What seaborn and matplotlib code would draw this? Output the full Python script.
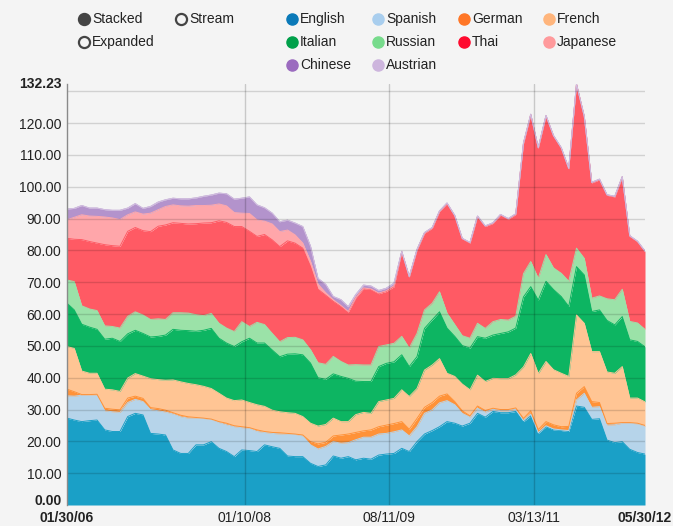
import numpy as np
import pandas as pd
import matplotlib
matplotlib.use("Agg")
import matplotlib.pyplot as plt
import matplotlib.transforms as mtransforms
import seaborn as sns

# ---------------- data ----------------
languages = ["English", "Spanish", "German", "French", "Italian",
             "Russian", "Thai", "Japanese", "Chinese", "Austrian"]

start_date = pd.Timestamp("2006-01-30")
n_points = 77  # monthly samples 01/30/06 .. 05/30/12

english = [27.3, 26.7, 26.2, 26.5, 26.7, 23.6, 23.1, 23.1, 27.8, 28.8, 28.3, 22.5, 22.3, 22.0, 17.3, 16.2, 16.2, 18.9, 18.9, 19.9,
           17.8, 16.8, 15.2, 17.3, 17.1, 16.8, 18.9, 18.3, 17.8, 15.4, 15.2, 15.2, 13.1, 12.1, 12.6, 15.4, 14.7, 15.2, 14.2, 14.7,
           14.4, 15.7, 16.0, 16.2, 17.8, 16.8, 19.9, 22.3, 23.4, 24.6, 26.2, 25.7, 24.8, 25.7, 28.8, 27.6, 29.4, 29.0, 29.0, 29.4,
           26.2, 28.0, 22.5, 24.6, 23.6, 23.4, 23.1, 31.1, 30.7, 26.9, 27.1, 20.4, 19.6, 19.9, 17.5, 16.5, 16.0]
spanish = [7.0, 7.5, 8.3, 8.1, 7.9, 6.0, 6.2, 6.0, 4.4, 4.4, 4.2, 7.5, 7.3, 7.2, 11.3, 11.5, 11.1, 8.4, 8.3, 7.0,
           8.1, 8.4, 9.4, 7.0, 7.0, 6.3, 3.9, 4.2, 4.5, 6.8, 7.0, 6.5, 5.8, 5.5, 5.8, 4.5, 4.7, 4.4, 6.3, 6.6,
           6.9, 6.6, 6.5, 6.8, 5.8, 4.9, 4.7, 6.5, 6.5, 7.5, 6.6, 5.8, 4.0, 1.9, 1.6, 1.6, 0.7, 0.6, 0.6, 0.7,
           0.3, 0.6, 0.2, 0.3, 0.3, 0.2, 0.3, 1.9, 4.4, 3.8, 3.8, 4.7, 5.6, 5.8, 8.2, 9.0, 8.8]
german = [2.1, 1.4, 0.2, 0.1, 0.2, 0.8, 0.8, 0.8, 1.4, 1.0, 1.0, 0.6, 0.7, 0.6, 0.4, 0.5, 0.4, 0.2, 0.1, 0.1,
          0.3, 0.5, 0.3, 0.3, 0.2, 0.5, 0.3, 0.3, 0.4, 0.3, 0.1, 0.3, 1.0, 1.6, 1.3, 1.8, 2.6, 2.7, 2.3, 2.0,
          2.3, 2.3, 2.6, 2.6, 2.6, 2.1, 2.6, 1.9, 2.3, 2.1, 2.1, 1.0, 0.8, 0.4, 0.7, 0.5, 0.3, 0.4, 0.4, 0.4,
          0.7, 1.0, 1.0, 1.3, 1.3, 1.0, 1.3, 2.1, 2.1, 1.8, 1.3, 0.5, 0.5, 0.2, 0.2, 0.2, 0.2]
french = [13.4, 13.6, 7.4, 6.7, 6.6, 6.0, 6.1, 5.8, 6.3, 7.1, 7.0, 9.1, 9.1, 9.4, 10.3, 10.5, 10.5, 10.3, 10.0, 9.6,
          8.9, 7.9, 7.9, 8.4, 7.9, 7.9, 7.9, 7.0, 6.6, 6.5, 6.5, 5.8, 5.8, 5.6, 5.6, 5.6, 4.2, 3.9, 5.6, 5.8,
          5.2, 7.9, 7.9, 7.9, 10.0, 10.3, 9.4, 11.7, 11.8, 11.8, 6.5, 7.9, 8.4, 8.2, 9.7, 9.1, 9.4, 9.7, 9.7, 10.4,
          16.2, 18.0, 17.6, 18.9, 17.3, 16.8, 15.7, 24.6, 19.9, 15.7, 16.0, 16.2, 15.7, 17.6, 7.7, 7.9, 7.4]
italian = [13.6, 12.1, 14.7, 14.5, 13.8, 15.7, 16.2, 15.7, 13.9, 13.6, 13.4, 13.1, 13.6, 14.2, 15.9, 16.2, 16.6, 16.8, 17.6, 18.9,
           17.3, 17.3, 17.0, 18.3, 20.2, 19.4, 19.9, 18.9, 17.3, 18.4, 18.7, 19.4, 18.9, 15.2, 14.2, 13.9, 14.2, 13.6, 10.5, 9.7,
           10.0, 11.0, 11.5, 11.5, 11.0, 9.4, 10.0, 13.1, 14.2, 14.7, 14.2, 12.6, 12.1, 13.1, 12.1, 13.6, 13.6, 14.2, 14.7, 14.7,
           22.0, 21.0, 23.1, 25.2, 25.2, 24.1, 22.0, 15.2, 15.2, 12.6, 13.1, 16.2, 15.2, 15.7, 18.3, 17.8, 17.3]
russian = [7.3, 8.9, 5.8, 5.7, 5.9, 4.2, 3.7, 4.2, 5.5, 5.8, 5.8, 5.5, 5.5, 4.9, 5.2, 5.5, 5.5, 5.2, 4.6, 4.7,
           4.7, 4.7, 4.7, 6.3, 3.7, 6.5, 5.8, 5.2, 4.7, 5.2, 5.2, 4.7, 4.2, 4.7, 4.7, 5.5, 4.7, 4.2, 5.2, 5.2,
           5.2, 6.3, 5.8, 5.8, 5.8, 5.8, 7.3, 5.8, 5.2, 6.3, 4.7, 3.7, 3.1, 3.1, 4.2, 3.1, 4.2, 4.4, 3.7, 3.7,
           7.3, 7.9, 6.8, 8.4, 6.8, 7.3, 7.9, 5.8, 5.2, 4.2, 4.4, 6.8, 7.9, 8.6, 5.8, 5.8, 5.5]
thai = [13.1, 13.3, 20.8, 21.2, 21.2, 25.5, 25.4, 25.7, 26.7, 26.5, 26.5, 27.6, 29.1, 29.7, 28.3, 28.1, 28.0, 28.6, 29.1, 28.5,
        32.2, 33.2, 33.0, 29.9, 29.9, 27.0, 28.3, 29.4, 29.9, 30.4, 29.6, 28.8, 26.2, 23.1, 21.7, 17.3, 17.3, 16.6, 21.0, 24.0,
        23.7, 16.6, 16.8, 17.8, 26.5, 22.3, 26.2, 24.1, 23.6, 25.2, 34.4, 34.1, 30.4, 29.9, 33.5, 32.0, 30.9, 32.8, 31.7, 32.0,
        40.9, 46.1, 40.9, 43.5, 41.4, 39.3, 35.3, 51.53, 44.5, 36.2, 36.5, 32.5, 32.3, 35.2, 26.7, 25.5, 24.4]
japanese = [5.8, 6.9, 7.8, 8.0, 8.4, 8.7, 8.7, 8.4, 5.2, 4.9, 5.2, 5.8, 5.2, 5.8, 5.6, 5.5, 5.6, 5.7, 5.5, 5.5,
            5.3, 5.2, 4.4, 4.2, 5.6, 5.2, 4.2, 5.0, 4.7, 3.4, 2.6, 1.6, 1.6, 1.6, 0.8, 0.5, 0.3, 0.2, 0.0, 0.2,
            0.2, 0.2, 0.2, 0.3, 0.1, 0.1, 0.1, 0.1, 0.1, 0.1, 0.1, 0.1, 0.1, 0.1, 0.1, 0.1, 0.1, 0.1, 0.1, 0.1,
            0.1, 0.1, 0.1, 0.1, 0.1, 0.1, 0.1, 0.0, 0.1, 0.1, 0.1, 0.1, 0.1, 0.1, 0.1, 0.1, 0.1]
chinese = [3.4, 2.8, 2.9, 2.5, 2.6, 2.3, 2.4, 2.9, 2.1, 2.6, 1.8, 2.1, 2.4, 2.1, 2.1, 2.2, 2.3, 2.4, 2.9, 3.2,
           3.4, 3.8, 4.2, 4.7, 5.2, 4.7, 4.2, 3.4, 3.1, 3.1, 3.7, 5.2, 4.7, 1.8, 2.6, 1.0, 1.8, 1.5, 1.0, 0.9,
           0.9, 0.8, 0.8, 0.8, 0.1, 0.1, 0.1, 0.1, 0.1, 0.1, 0.1, 0.1, 0.1, 0.1, 0.1, 0.1, 0.1, 0.1, 0.1, 0.1,
           0.1, 0.1, 0.1, 0.1, 0.1, 0.1, 0.1, 0.0, 0.1, 0.1, 0.1, 0.1, 0.1, 0.1, 0.1, 0.1, 0.1]
austrian = [0.0] * n_points

series = [english, spanish, german, french, italian, russian, thai, japanese, chinese, austrian]

x_tick_dates = ["2006-01-30", "2008-01-10", "2009-08-11", "2011-03-13", "2012-05-30"]

area_colors = ["#1aa0c7", "#b6d4ea", "#ff9238", "#ffc594", "#0db562",
               "#9be2a8", "#ff5a64", "#ffa6aa", "#b393cc", "#d2bfe0"]
legend_colors = ["#0a79b8", "#a9ceee", "#ff7626", "#ffb57c", "#00a04a",
                 "#77db8c", "#ff0a2e", "#ff9a9c", "#9b6bbf", "#cdb5dd"]

# ---------------- build frame ----------------
dates = pd.to_datetime([start_date + pd.DateOffset(months=i) for i in range(n_points)])
wide = pd.DataFrame(dict(zip(languages, series)), index=dates)
cum = wide.cumsum(axis=1)
long = cum.reset_index().melt(id_vars="index", var_name="language", value_name="cum")
long = long.rename(columns={"index": "date"})
max_total = float(wide.sum(axis=1).max())

# ---------------- figure ----------------
sns.set_theme(style="white")
plt.rcParams["font.family"] = ["Liberation Sans", "DejaVu Sans"]

BG = "#f4f4f4"
W, H = 673, 526
fig = plt.figure(figsize=(W / 100, H / 100), dpi=100, facecolor=BG)
left, right, top, bottom = 67, 645, 84.2, 505
ax = fig.add_axes([left / W, (H - bottom) / H, (right - left) / W, (bottom - top) / H])
ax.set_facecolor(BG)

prev = np.zeros(n_points)
for lang, col in zip(languages, area_colors):
    cur = cum[lang].to_numpy()
    ax.fill_between(dates, prev, cur, color=col, linewidth=0, zorder=2)
    prev = cur

sns.lineplot(data=long, x="date", y="cum", hue="language", hue_order=languages,
             palette=dict(zip(languages, area_colors)), linewidth=0.7,
             legend=False, ax=ax, zorder=2.5)

# grid on top, semi-transparent like the original
for v in range(10, 140, 10):
    if v < max_total:
        ax.axhline(v, color=(0, 0, 0, 0.14), lw=1.0, zorder=3)
for d in x_tick_dates[1:-1]:
    ax.axvline(pd.Timestamp(d), color=(0, 0, 0, 0.18), lw=1.0, zorder=3)

ax.set_xlim(dates[0], dates[-1])
ax.set_ylim(0, max_total)

yt = list(range(0, 130, 10)) + [max_total]
ax.set_yticks(yt)
ax.set_yticklabels([f"{v:.2f}" for v in yt])

xt = pd.to_datetime(x_tick_dates)
ax.set_xticks(xt)
ax.set_xticklabels([d.strftime("%m/%d/%y") for d in xt])

ax.tick_params(axis="both", length=0, labelsize=10, colors="#222222")
ax.tick_params(axis="y", pad=4)
ax.tick_params(axis="x", pad=4)
ax.set_xlabel("")
ax.set_ylabel("")

ylabs = ax.get_yticklabels()
for i, lab in enumerate(ylabs):
    if i == 0 or i == len(yt) - 1:
        lab.set_fontweight("bold")
# lift the 0.00 label a little so it clears the first date label
ylabs[0].set_transform(ylabs[0].get_transform() +
                       mtransforms.ScaledTranslation(0, 4 / 72, fig.dpi_scale_trans))
ylabs[-1].set_transform(ylabs[-1].get_transform() +
                        mtransforms.ScaledTranslation(0, 1 / 72, fig.dpi_scale_trans))
for i, lab in enumerate(ax.get_xticklabels()):
    if i == 0 or i == len(xt) - 1:
        lab.set_fontweight("bold")

for s in ["top", "right", "bottom"]:
    ax.spines[s].set_visible(False)
ax.spines["left"].set_color("#8a8a8a")
ax.spines["left"].set_linewidth(1.0)
ax.spines["left"].set_zorder(4)

# ---------------- legend (pixel overlay) ----------------
lax = fig.add_axes([0, 0, 1, 1], facecolor="none")
lax.set_xlim(0, W)
lax.set_ylim(H, 0)
lax.axis("off")

controls = [("Stacked", 84, 19, True), ("Stream", 181, 19, False), ("Expanded", 84, 42, False)]
for lab, cx, cy, filled in controls:
    lax.plot(cx, cy, "o", ms=8, mfc="#444444" if filled else "none", mec="#444444", mew=1.6)
    lax.text(cx + 8, cy, lab, fontsize=10, color="#222222", va="center", ha="left")

col_x = [292, 378, 464, 549]
row_y = [19, 42, 65]
for k, (lab, col) in enumerate(zip(languages, legend_colors)):
    cx = col_x[k % 4]
    cy = row_y[k // 4]
    lax.plot(cx, cy, "o", ms=8, mfc=col, mec=col, mew=1.0)
    lax.text(cx + 8, cy, lab, fontsize=10, color="#222222", va="center", ha="left")

fig.savefig("out.png", dpi=100, facecolor=BG)
